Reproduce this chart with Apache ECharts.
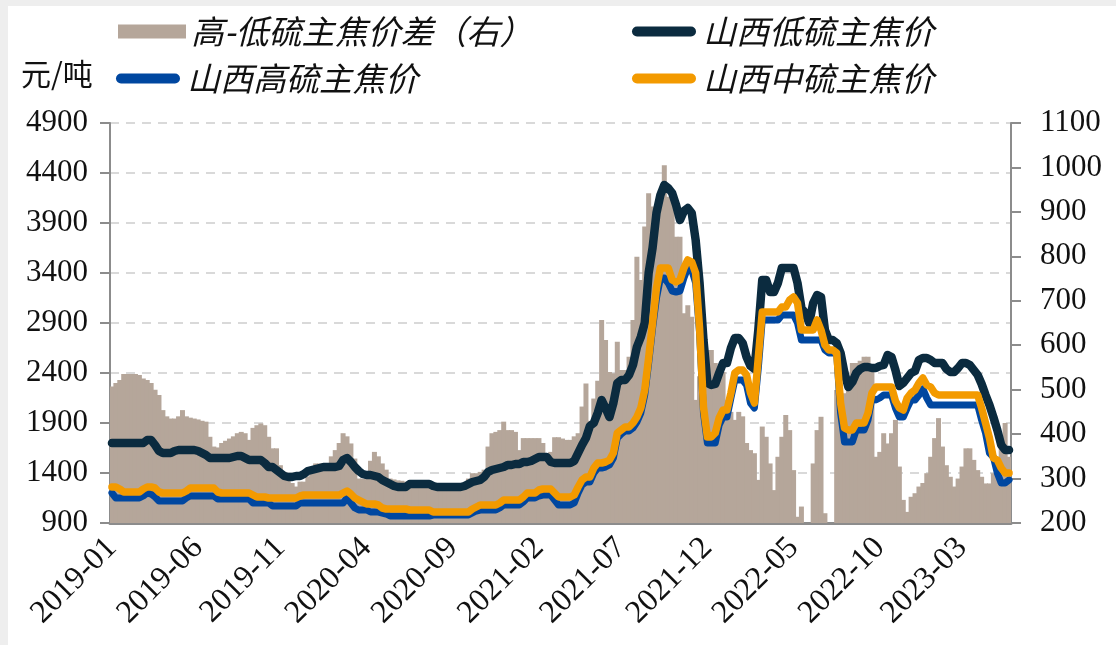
<!DOCTYPE html>
<html>
<head>
<meta charset="utf-8">
<script src="https://cdn.jsdelivr.net/npm/echarts@6/dist/echarts.min.js"></script>
<style>
  html, body { margin: 0; padding: 0; background: #ffffff; }
  #chart { width: 1116px; height: 645px; }
</style>
</head>
<body>
<div id="chart"></div>
<script>
// Weekly observations (Fridays) starting 2019-01-04
const startDate = '2019-01-04';
const weekCount = 230;

// 山西低硫主焦价 (元/吨)
const lowSulfur = [
  1700,1700,1700,1700,1700,1700,1700,1700,1700,1730,
  1730,1680,1620,1600,1600,1600,1620,1630,1630,1630,
  1630,1630,1620,1600,1580,1550,1550,1550,1550,1550,
  1550,1560,1570,1570,1550,1530,1530,1530,1530,1500,
  1460,1460,1430,1400,1370,1360,1360,1370,1370,1390,
  1420,1430,1440,1450,1460,1460,1460,1460,1470,1530,
  1550,1510,1460,1420,1390,1380,1380,1370,1360,1330,
  1310,1290,1270,1260,1260,1260,1290,1290,1290,1290,
  1290,1290,1270,1260,1260,1260,1260,1260,1260,1260,
  1270,1290,1310,1320,1330,1360,1410,1430,1440,1450,
  1460,1480,1480,1490,1490,1510,1510,1520,1540,1560,
  1560,1560,1510,1500,1500,1500,1500,1500,1520,1600,
  1680,1750,1870,1900,2000,2130,2050,1960,2100,2300,
  2330,2330,2380,2480,2660,2760,2900,3400,3650,4000,
  4180,4280,4250,4200,4080,3930,4020,4050,4000,3730,
  3300,2730,2300,2280,2290,2400,2500,2500,2650,2750,
  2750,2700,2560,2470,2440,2830,3330,3330,3210,3210,
  3300,3450,3450,3450,3450,3300,3050,3000,2900,3100,
  3180,3160,2830,2730,2730,2700,2600,2400,2260,2310,
  2400,2440,2460,2460,2450,2450,2470,2480,2580,2560,
  2430,2270,2300,2350,2400,2420,2530,2550,2550,2530,
  2500,2500,2500,2440,2410,2410,2450,2500,2500,2480,
  2430,2380,2290,2180,2080,1960,1830,1680,1630,1630
];

// 山西高硫主焦价 (元/吨)
const highSulfur = [
  1200,1150,1150,1150,1150,1150,1150,1150,1170,1200,
  1190,1160,1120,1120,1120,1120,1120,1120,1120,1150,
  1170,1170,1170,1170,1170,1170,1170,1140,1140,1140,
  1140,1140,1140,1140,1140,1140,1100,1100,1100,1100,
  1100,1070,1070,1070,1070,1070,1070,1070,1100,1100,
  1100,1100,1100,1100,1100,1100,1100,1100,1100,1100,
  1150,1100,1050,1030,1030,1030,1010,1010,1010,1000,
  990,970,970,970,970,970,970,970,970,970,
  970,970,980,980,980,980,980,980,980,980,
  980,980,1000,1020,1030,1030,1030,1030,1030,1050,
  1080,1080,1080,1080,1080,1110,1150,1150,1150,1170,
  1180,1180,1180,1130,1080,1080,1080,1080,1100,1200,
  1280,1310,1310,1400,1450,1450,1460,1480,1550,1750,
  1790,1820,1820,1850,1910,2000,2180,2500,2850,3150,
  3350,3350,3300,3220,3210,3220,3350,3450,3430,3300,
  2800,2000,1700,1700,1700,1880,1960,1960,2150,2330,
  2330,2330,2280,2100,2050,2450,2930,2930,2930,2930,
  2930,2980,2980,2980,2980,2900,2730,2730,2730,2730,
  2730,2730,2630,2600,2600,2600,2000,1710,1710,1710,
  1830,1830,1830,1930,2150,2130,2150,2180,2180,2180,
  2050,1960,1960,2050,2130,2130,2180,2240,2150,2080,
  2080,2080,2080,2080,2080,2080,2080,2080,2080,2080,
  2080,2080,1930,1800,1600,1560,1400,1300,1300,1330
];

// 山西中硫主焦价 (元/吨)
const midSulfur = [
  1260,1260,1240,1210,1210,1210,1210,1210,1240,1260,
  1260,1250,1210,1200,1200,1200,1200,1200,1200,1220,
  1250,1250,1250,1250,1250,1250,1250,1210,1200,1200,
  1200,1200,1200,1200,1200,1200,1180,1160,1160,1160,
  1150,1150,1150,1150,1150,1150,1150,1150,1170,1180,
  1180,1180,1180,1180,1180,1180,1180,1180,1180,1200,
  1220,1190,1150,1130,1110,1090,1090,1090,1080,1050,
  1040,1040,1040,1040,1040,1040,1030,1030,1030,1030,
  1030,1030,1010,1010,1010,1010,1010,1010,1010,1010,
  1010,1010,1040,1060,1080,1080,1080,1080,1080,1100,
  1130,1130,1130,1130,1130,1160,1200,1200,1200,1230,
  1240,1240,1240,1200,1160,1160,1160,1160,1180,1260,
  1330,1360,1360,1450,1500,1500,1510,1530,1600,1800,
  1830,1860,1860,1900,1960,2050,2230,2550,2900,3250,
  3450,3450,3450,3330,3310,3330,3450,3530,3510,3400,
  2850,2060,1760,1760,1800,1950,2030,2030,2200,2400,
  2430,2430,2380,2200,2100,2560,3010,3010,3010,3010,
  3010,3060,3060,3130,3160,3100,2830,2830,2830,2830,
  2930,2830,2680,2630,2630,2600,2100,1850,1830,1830,
  1900,1900,1900,2000,2200,2260,2260,2260,2260,2260,
  2120,2050,2030,2150,2200,2230,2300,2350,2280,2260,
  2200,2180,2180,2180,2180,2180,2180,2180,2180,2180,
  2180,2180,2050,1900,1750,1550,1530,1450,1400,1400
];

// 高-低硫主焦价差 (元/吨, 右轴)
const spread = [
  507,515,522,535,535,535,535,533,525,522,
  515,500,488,454,440,435,435,440,454,440,
  437,435,433,430,428,394,372,370,380,385,
  390,395,402,405,402,387,414,420,424,420,
  394,368,368,330,315,304,290,282,293,293,
  305,312,334,334,334,334,350,364,380,402,
  395,379,345,300,300,310,340,360,350,334,
  320,300,298,296,295,293,293,293,293,290,
  290,285,280,276,274,274,274,274,274,276,
  280,300,312,312,315,320,372,402,405,409,
  428,409,409,405,364,391,391,391,391,391,
  380,349,360,393,393,390,387,387,395,402,
  462,514,430,480,520,657,612,540,537,608,
  544,544,574,657,799,747,867,942,912,912,
  949,1005,934,934,844,844,672,690,664,477,
  530,582,589,589,560,537,540,477,450,432,
  450,440,380,364,357,297,417,394,334,274,
  349,394,443,409,319,214,237,190,185,334,
  409,439,222,190,195,499,495,492,520,560,
  560,565,574,574,544,349,360,402,379,402,
  432,327,252,225,259,267,282,290,312,349,
  391,436,372,330,304,282,300,327,368,368,
  342,319,304,289,289,312,330,372,425,349
];

const seriesNames = ['高-低硫主焦价差（右）', '山西低硫主焦价', '山西高硫主焦价', '山西中硫主焦价'];
const leftTicks = { min: 900, max: 4900, step: 500 };
const rightTicks = { min: 200, max: 1100, step: 100 };
const labelEveryMonths = 5;

// Build the weekly date categories
const weeks = [];
(function () {
  const d = new Date(startDate + 'T00:00:00Z');
  for (let i = 0; i < weekCount; i++) {
    weeks.push(d.toISOString().slice(0, 10));
    d.setUTCDate(d.getUTCDate() + 7);
  }
})();

// Show a label at the first week of every fifth month from 2019-01
function isLabelWeek(index) {
  const cur = weeks[index];
  const y = +cur.slice(0, 4), m = +cur.slice(5, 7) - 1;
  const monthIdx = (y - 2019) * 12 + m;
  if (monthIdx % labelEveryMonths !== 0) return false;
  if (index === 0) return true;
  return weeks[index - 1].slice(0, 7) !== cur.slice(0, 7);
}

const serif = '"Liberation Serif", "Times New Roman", serif';
const cjk = '"Noto Sans CJK SC", "Noto Sans", sans-serif';
const axisGray = '#8c8c8c';
const pillIcon = 'path://M5,0 L59,0 A5,5 0 0 1 59,10 L5,10 A5,5 0 0 1 5,0 Z';
const plainNumber = v => String(v);

function legendAt(name, left, top, icon, h) {
  return {
    data: [name], left: left, top: top, padding: 0,
    icon: icon, itemWidth: 68, itemHeight: h,
    itemStyle: { borderWidth: 0 },
    textStyle: { fontFamily: cjk, fontSize: 33, fontStyle: 'italic', color: '#111' },
    selectedMode: false
  };
}

const chart = echarts.init(document.getElementById('chart'), null, { renderer: 'canvas' });
chart.setOption({
  animation: false,
  backgroundColor: '#ffffff',
  graphic: [
    { type: 'rect', shape: { x: 0, y: 0, width: 8, height: 645 }, style: { fill: '#eeeeee' }, silent: true },
    { type: 'rect', shape: { x: 0, y: 0, width: 1116, height: 6 }, style: { fill: '#eeeeee' }, silent: true },
    { type: 'text', left: 21, top: 59, style: { text: '元/吨', font: '30px ' + cjk, fill: '#111' }, silent: true }
  ],
  legend: [
    legendAt(seriesNames[0], 118, 15, 'rect', 14),
    legendAt(seriesNames[1], 632, 15, pillIcon, 10),
    legendAt(seriesNames[2], 116, 62, pillIcon, 10),
    legendAt(seriesNames[3], 632, 62, pillIcon, 10)
  ],
  grid: { left: 110, right: 105, top: 123, bottom: 122, containLabel: false },
  xAxis: {
    type: 'category',
    data: weeks,
    boundaryGap: true,
    axisLine: { lineStyle: { color: axisGray, width: 3 } },
    axisTick: { show: false },
    splitLine: { show: false },
    axisLabel: {
      interval: isLabelWeek,
      rotate: 45,
      margin: 20,
      fontFamily: serif,
      fontSize: 32,
      color: '#111',
      formatter: v => v.slice(0, 7)
    }
  },
  yAxis: [
    {
      type: 'value',
      min: leftTicks.min, max: leftTicks.max, interval: leftTicks.step,
      axisLine: { show: true, lineStyle: { color: axisGray, width: 2 } },
      axisTick: { show: true, length: 10, lineStyle: { color: axisGray, width: 2 } },
      splitLine: { show: true, lineStyle: { color: '#d9d9d9', width: 2, type: [9, 7] } },
      axisLabel: { margin: 22, fontFamily: serif, fontSize: 31, color: '#111', formatter: plainNumber }
    },
    {
      type: 'value',
      min: rightTicks.min, max: rightTicks.max, interval: rightTicks.step,
      axisLine: { show: true, lineStyle: { color: axisGray, width: 2 } },
      axisTick: { show: true, length: 10, lineStyle: { color: axisGray, width: 2 } },
      splitLine: { show: false },
      axisLabel: { margin: 29, fontFamily: serif, fontSize: 31, color: '#111', formatter: plainNumber }
    }
  ],
  series: [
    {
      name: seriesNames[0], type: 'bar', yAxisIndex: 1, data: spread,
      barWidth: 5, itemStyle: { color: '#b5a69a' }, z: 1, clip: true
    },
    {
      name: seriesNames[1], type: 'line', data: lowSulfur, symbol: 'none', z: 3,
      itemStyle: { color: '#0b2b3f' },
      lineStyle: { color: '#0b2b3f', width: 8.5, cap: 'round', join: 'round' }
    },
    {
      name: seriesNames[2], type: 'line', data: highSulfur, symbol: 'none', z: 4,
      itemStyle: { color: '#0047a0' },
      lineStyle: { color: '#0047a0', width: 7, cap: 'round', join: 'round' }
    },
    {
      name: seriesNames[3], type: 'line', data: midSulfur, symbol: 'none', z: 5,
      itemStyle: { color: '#f39a00' },
      lineStyle: { color: '#f39a00', width: 7.5, cap: 'round', join: 'round' }
    }
  ]
});
</script>
</body>
</html>
